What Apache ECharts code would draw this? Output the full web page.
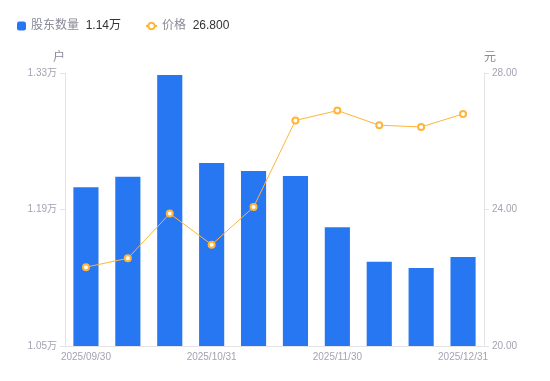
<!DOCTYPE html>
<html><head><meta charset="utf-8">
<script src="https://cdn.jsdelivr.net/npm/echarts@6/dist/echarts.min.js"></script>
<style>html,body{margin:0;padding:0;background:#fff}#c{width:550px;height:381px}</style>
</head><body><div id="c"></div>
<script>
var categories = ['2025/09/30','2025/10/10','2025/10/20','2025/10/31','2025/11/10','2025/11/20','2025/11/30','2025/12/10','2025/12/20','2025/12/31'];
var holders = [12128, 12236, 13279, 12377, 12295, 12244, 11717, 11365, 11300, 11413];
var prices = [22.31, 22.57, 23.88, 22.97, 24.07, 26.61, 26.90, 26.47, 26.42, 26.80];
var leftTicks = [10500, 11900, 13300];
var rightTicks = [20, 24, 28];

var FONT = "'Liberation Sans', 'Noto Sans CJK SC', sans-serif";
var labelColor = '#a3a3b3';
var lineColor = '#e3e3e8';
var chart = echarts.init(document.getElementById('c'));
var lastH = holders[holders.length-1], lastP = prices[prices.length-1];
var legendText = {fontFamily: FONT, rich: {a: {color: '#8a8a98', fontSize: 12, fontFamily: FONT}, b: {color: '#333333', fontSize: 12, fontFamily: FONT}}};
chart.setOption({
  animation: false,
  textStyle: {fontFamily: FONT},
  legend: [{
    left: 12, top: 15, itemWidth: 9, itemHeight: 9,
    data: [{name: '股东数量', icon: 'roundRect'}],
    formatter: function(n){ return '{a|' + n + '}  {b|' + (lastH/10000).toFixed(2) + '万}'; },
    textStyle: legendText
  }, {
    left: 140, top: 15, itemWidth: 11, itemHeight: 8,
    data: [{name: '价格'}],
    formatter: function(n){ return '{a|' + n + '}  {b|' + lastP.toFixed(3) + '}'; },
    textStyle: legendText
  }],
  grid: {left: 65, right: 66, top: 73, bottom: 35},
  xAxis: {
    type: 'category', data: categories, boundaryGap: true,
    axisLine: {lineStyle: {color: lineColor}},
    axisTick: {show: false},
    axisLabel: {interval: 2, color: labelColor, fontSize: 10, margin: 6, fontFamily: FONT}
  },
  yAxis: [{
    type: 'value', min: 10500, max: 13300, position: 'left',
    name: '户', nameLocation: 'end', nameGap: 9,
    nameTextStyle: {color: '#8a8a98', fontSize: 12, align: 'right', fontFamily: FONT},
    axisLine: {show: true, lineStyle: {color: lineColor}},
    axisTick: {show: true, length: 5, lineStyle: {color: lineColor}, customValues: leftTicks},
    splitLine: {show: false},
    axisLabel: {color: labelColor, fontSize: 10, margin: 8, fontFamily: FONT, customValues: leftTicks,
      formatter: function(v){ return (v/10000).toFixed(2) + '万'; }}
  }, {
    type: 'value', min: 20, max: 28, interval: 4, position: 'right',
    name: '元', nameLocation: 'end', nameGap: 9,
    nameTextStyle: {color: '#8a8a98', fontSize: 12, align: 'left', fontFamily: FONT},
    axisLine: {show: true, lineStyle: {color: lineColor}},
    axisTick: {show: true, length: 5, lineStyle: {color: lineColor}},
    splitLine: {show: false},
    axisLabel: {color: labelColor, fontSize: 10, margin: 8, fontFamily: FONT,
      formatter: function(v){ return v.toFixed(2); }}
  }],
  series: [{
    name: '股东数量', type: 'bar', data: holders, yAxisIndex: 0, barWidth: '60%',
    itemStyle: {color: '#2877F2'}
  }, {
    name: '价格', type: 'line', data: prices, yAxisIndex: 1,
    symbol: 'emptyCircle', symbolSize: 6,
    lineStyle: {color: '#FFB43A', width: 1},
    itemStyle: {color: '#FFB43A', borderWidth: 2}
  }]
});
</script></body></html>
